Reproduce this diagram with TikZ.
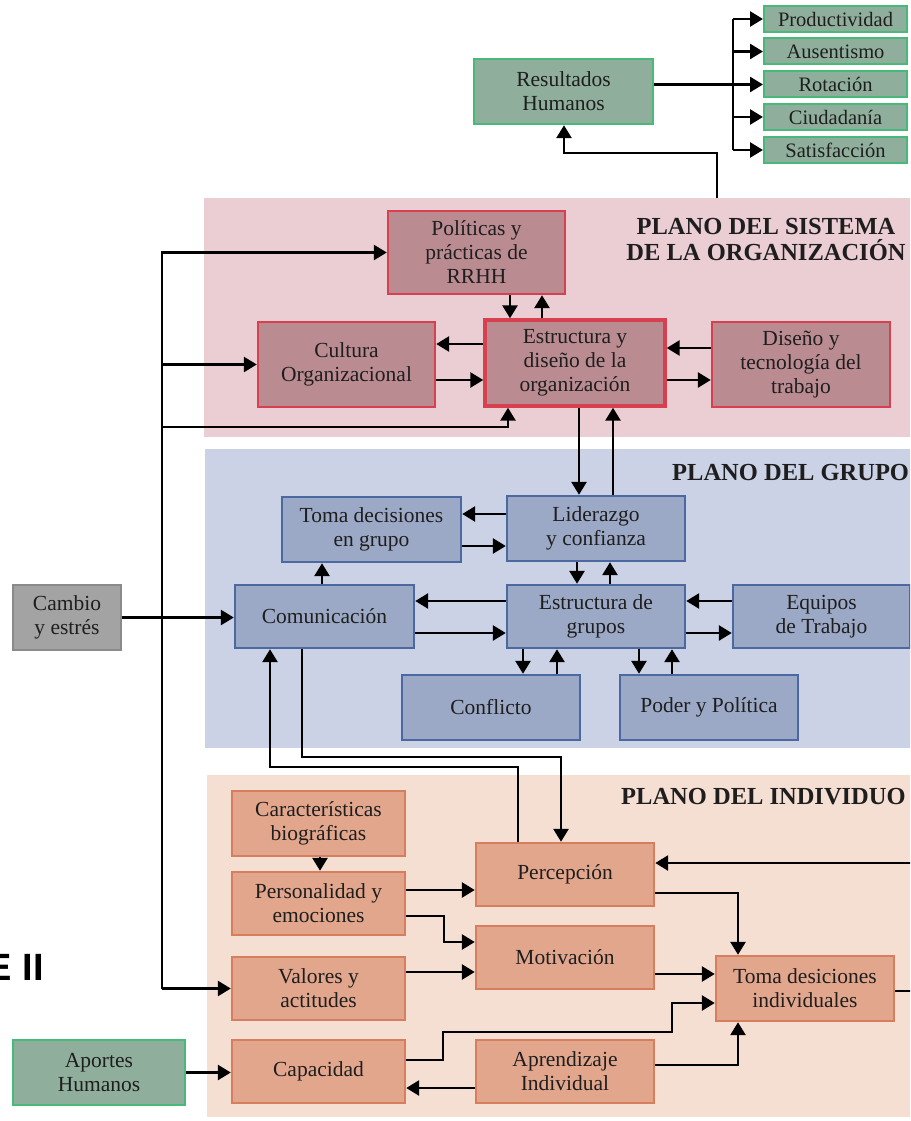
\documentclass[tikz,border=0pt]{standalone}
\usepackage{fontspec}
\setmainfont{Liberation Serif}
\newfontfamily\headsans{Liberation Sans}
\usetikzlibrary{arrows.meta}
\definecolor{grnfill}{HTML}{8FAF9C}
\definecolor{grnline}{HTML}{47B978}
\definecolor{orgbg}{HTML}{EBCDD4}
\definecolor{orgfill}{HTML}{BA8C92}
\definecolor{orgline}{HTML}{D7404F}
\definecolor{grpbg}{HTML}{CBD2E5}
\definecolor{grpfill}{HTML}{9CA9C6}
\definecolor{grpline}{HTML}{4C68A0}
\definecolor{indbg}{HTML}{F5DFD3}
\definecolor{indfill}{HTML}{E2A68D}
\definecolor{indline}{HTML}{D77E5E}
\definecolor{greyfill}{HTML}{A3A3A3}
\definecolor{greyline}{HTML}{8A8A8A}
\definecolor{ink}{HTML}{1E1E1E}
\tikzset{
  box/.style={draw, line width=2.4pt, align=center, text=ink, inner sep=0pt,
    font=\fontsize{21.5}{24}\selectfont},
  grn/.style={box, fill=grnfill, draw=grnline},
  org/.style={box, fill=orgfill, draw=orgline},
  grp/.style={box, fill=grpfill, draw=grpline},
  ind/.style={box, fill=indfill, draw=indline},
  gry/.style={box, fill=greyfill, draw=greyline},
  outbox/.style={grn, minimum width=143pt, minimum height=26pt, line width=2pt,
    font=\fontsize{20.5}{22}\selectfont},
  plane/.style={align=center, text=ink, inner sep=0pt,
    font=\bfseries\fontsize{24.5}{26}\selectfont},
  link/.style={line width=2.7pt, black},
  arr/.style={link, -{Triangle[length=13pt,width=15pt]}},
}
\begin{document}
\begin{tikzpicture}[x=1pt,y=-1pt]
\clip (0,0) rectangle (910,1121);
\fill[white] (0,0) rectangle (910,1121);

% planes
\fill[orgbg] (204,198) rectangle (915,437);
\fill[grpbg] (205,449) rectangle (915,748);
\fill[indbg] (207,775) rectangle (915,1117);

\node[plane] (torg) at (766,240) {PLANO DEL SISTEMA\\DE LA ORGANIZACIÓN};
\node[plane, anchor=west] (tgrp) at (672,473) {PLANO DEL GRUPO};
\node[plane, anchor=west] (tind) at (621,797) {PLANO DEL INDIVIDUO};

\node[anchor=base east, inner sep=0pt] (side) at (44,980)
  {\headsans\bfseries\fontsize{38}{40}\selectfont E II};

% human outcomes
\node[grn, minimum width=179pt, minimum height=65pt] (res) at (563.5,91.5) {Resultados\\Humanos};
\node[outbox] (prod) at (835.5,19) {Productividad};
\node[outbox] (aus) at (835.5,51.5) {Ausentismo};
\node[outbox] (rot) at (835.5,84.5) {Rotación};
\node[outbox] (ciu) at (835.5,117) {Ciudadanía};
\node[outbox] (sat) at (835.5,150) {Satisfacción};

% organisation level
\node[org, minimum width=177pt, minimum height=83pt] (pol) at (476.5,252.5) {Políticas y\\prácticas de\\RRHH};
\node[org, minimum width=177pt, minimum height=85pt] (cult) at (346.5,364.5) {Cultura\\Organizacional};
\node[org, line width=3.4pt, minimum width=180pt, minimum height=86pt] (estr) at (575,363) {Estructura y\\diseño de la\\organización};
\node[org, minimum width=178pt, minimum height=85pt] (dis) at (801,364.5) {Diseño y\\tecnología del\\trabajo};

% group level
\node[grp, minimum width=179pt, minimum height=65pt] (tdg) at (371.5,529.5) {Toma decisiones\\en grupo};
\node[grp, minimum width=178pt, minimum height=65pt] (lid) at (596,528.5) {Liderazgo\\y confianza};
\node[grp, minimum width=179pt, minimum height=63pt] (com) at (324.5,616.5) {Comunicación};
\node[grp, minimum width=178pt, minimum height=63pt] (eg) at (596,616.5) {Estructura de\\grupos};
\node[grp, minimum width=177pt, minimum height=63pt] (eq) at (821.5,616.5) {Equipos\\de Trabajo};
\node[grp, minimum width=178pt, minimum height=65pt] (conf) at (491,707.5) {Conflicto};
\node[grp, minimum width=178pt, minimum height=65pt] (pod) at (709,707.5) {Poder y Política};

% individual level
\node[ind, minimum width=173pt, minimum height=65pt] (car) at (318.5,823.5) {Características\\biográficas};
\node[ind, minimum width=173pt, minimum height=63pt] (pers) at (318.5,903.5) {Personalidad y\\emociones};
\node[ind, minimum width=173pt, minimum height=63pt] (val) at (318.5,988.5) {Valores y\\actitudes};
\node[ind, minimum width=173pt, minimum height=63pt] (cap) at (318.5,1071.5) {Capacidad};
\node[ind, minimum width=178pt, minimum height=63pt] (perc) at (565,874.5) {Percepción};
\node[ind, minimum width=178pt, minimum height=63pt] (mot) at (565,957.5) {Motivación};
\node[ind, minimum width=178pt, minimum height=63pt] (apr) at (565,1071.5) {Aprendizaje\\Individual};
\node[ind, minimum width=178pt, minimum height=65pt] (tdi) at (805,988.5) {Toma desiciones\\individuales};

% inputs
\node[gry, minimum width=108pt, minimum height=65pt] (cam) at (67,617.5) {Cambio\\y estrés};
\node[grn, minimum width=172pt, minimum height=65pt] (apo) at (99,1072.5) {Aportes\\Humanos};

% outcome fan-out
\coordinate (fan) at (733,0);
\draw[link] (fan |- prod.west) -- (fan |- sat.west);
\foreach \t in {prod,aus,ciu,sat} \draw[arr] (fan |- \t.west) -- (\t.west);
\draw[arr] (res.east |- rot.west) -- (rot.west);
\coordinate (orgout) at (717,198);
\draw[arr] (orgout) -- (717,153) -- (564,153) -- (res.south -| 564,0);

% feedback bus on the left
\coordinate (bus) at (162,0);
\draw[arr] (bus |- val.west) -- (bus |- pol.west) -- (pol.west);
\draw[arr] (bus |- val.west) -- (val.west);
\draw[arr] (bus |- cult.west) -- (cult.west);
\draw[arr] (bus |- 0,427) -- (508,427) -- (estr.south -| 508,0);
\draw[arr] (cam.east) -- (cam.east -| com.west);

% organisation level links
\draw[arr] (pol.south -| 510,0) -- (estr.north -| 510,0);
\draw[arr] (estr.north -| 542,0) -- (pol.south -| 542,0);
\draw[arr] (estr.west |- 0,344) -- (cult.east |- 0,344);
\draw[arr] (cult.east |- 0,380) -- (estr.west |- 0,380);
\draw[arr] (dis.west |- 0,348) -- (estr.east |- 0,348);
\draw[arr] (estr.east |- 0,380) -- (dis.west |- 0,380);
\draw[arr] (estr.south -| 579,0) -- (lid.north -| 579,0);
\draw[arr] (lid.north -| 613,0) -- (estr.south -| 613,0);

% group level links
\draw[arr] (lid.west |- 0,514) -- (tdg.east |- 0,514);
\draw[arr] (tdg.east |- 0,546) -- (lid.west |- 0,546);
\draw[arr] (com.north -| 322,0) -- (tdg.south -| 322,0);
\draw[arr] (lid.south -| 577,0) -- (eg.north -| 577,0);
\draw[arr] (eg.north -| 610,0) -- (lid.south -| 610,0);
\draw[arr] (eg.west |- 0,601) -- (com.east |- 0,601);
\draw[arr] (com.east |- 0,633) -- (eg.west |- 0,633);
\draw[arr] (eq.west |- 0,601) -- (eg.east |- 0,601);
\draw[arr] (eg.east |- 0,633) -- (eq.west |- 0,633);
\draw[arr] (eg.south -| 523,0) -- (conf.north -| 523,0);
\draw[arr] (conf.north -| 557,0) -- (eg.south -| 557,0);
\draw[arr] (eg.south -| 639,0) -- (pod.north -| 639,0);
\draw[arr] (pod.north -| 672,0) -- (eg.south -| 672,0);

% links between group and individual levels
\draw[arr] (perc.north -| 518,0) -- (518,767) -- (270,767) -- (com.south -| 270,0);
\draw[arr] (com.south -| 302,0) -- (302,757) -- (561,757) -- (perc.north -| 561,0);

% individual level links
\draw[arr] (car.south -| 320,0) -- (pers.north -| 320,0);
\draw[arr] (pers.east |- 0,890) -- (perc.west |- 0,890);
\draw[arr] (pers.east |- 0,916) -- (444,916) -- (444,942) -- (mot.west |- 0,942);
\draw[arr] (val.east |- 0,972) -- (mot.west |- 0,972);
\draw[arr] (perc.east |- 0,893) -- (738,893) -- (tdi.north -| 738,0);
\draw[arr] (mot.east |- 0,974) -- (tdi.west |- 0,974);
\draw[arr] (cap.east |- 0,1060) -- (443,1060) -- (443,1032) -- (672,1032) -- (672,1003) -- (tdi.west |- 0,1003);
\draw[arr] (apr.west |- 0,1088) -- (cap.east |- 0,1088);
\draw[arr] (apr.east |- 0,1065) -- (738,1065) -- (tdi.south -| 738,0);
\draw[arr] (apo.east) -- (apo.east -| cap.west);
\coordinate (indin) at (915,863);
\draw[arr] (indin) -- (perc.east |- indin);
\coordinate (indout) at (915,991);
\draw[link] (tdi.east |- indout) -- (indout);
\end{tikzpicture}
\end{document}
